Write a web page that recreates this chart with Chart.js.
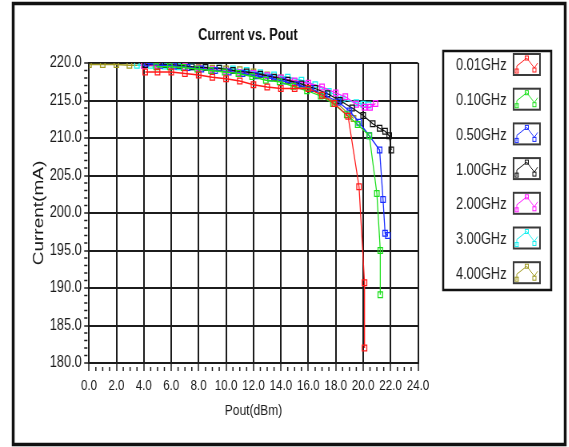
<!DOCTYPE html>
<html>
<head>
<meta charset="utf-8">
<script src="https://cdn.jsdelivr.net/npm/chart.js@4.4.0/dist/chart.umd.min.js"></script>
<style>
  html, body { margin: 0; padding: 0; background: #fff; overflow: hidden; }
  /* the reference is squeezed sideways, so draw wide and squeeze */
  #wrap { width: 711px; height: 447px; transform: scaleX(0.8); transform-origin: 0 0; }
</style>
</head>
<body>
<div id="wrap"><canvas id="chart"></canvas></div>
<script>
const seriesLabels = ['0.01GHz', '0.10GHz', '0.50GHz', '1.00GHz', '2.00GHz', '3.00GHz', '4.00GHz'];
const seriesColors = ['#ff1a1a', '#1ee01e', '#1a2cff', '#111111', '#ff1aff', '#1af0f0', '#a09a22'];

const pout001 = [4.1, 5.0, 6.0, 7.0, 8.0, 9.0, 10.0, 11.0, 12.0, 13.0, 14.0, 15.0, 16.0, 17.0, 17.9, 18.9, 19.7, 20.1, 20.1];
const curr001 = [218.8, 218.8, 218.8, 218.6, 218.4, 218.1, 217.9, 217.6, 217.1, 216.8, 216.6, 216.6, 216.6, 215.7, 214.6, 212.9, 203.5, 190.7, 182.0];

const pout010 = [4.9, 5.9, 6.9, 7.9, 8.9, 9.9, 10.9, 11.9, 12.9, 13.9, 14.9, 15.9, 16.9, 17.8, 18.8, 19.6, 20.45, 21.0, 21.25, 21.25];
const curr010 = [219.5, 219.5, 219.4, 219.2, 219.0, 218.8, 218.6, 218.2, 217.7, 217.5, 216.9, 216.3, 215.6, 214.6, 213.1, 211.8, 210.3, 202.6, 195.0, 189.1];

const pout050 = [4.2, 5.2, 6.2, 7.2, 8.2, 9.2, 10.2, 11.2, 12.2, 13.2, 14.2, 15.2, 16.2, 17.2, 18.2, 19.0, 19.7, 20.45, 21.2, 21.45, 21.6, 21.8];
const curr050 = [220.0, 219.7, 219.6, 219.4, 219.2, 219.0, 218.8, 218.6, 218.3, 218.0, 217.6, 217.1, 216.6, 215.7, 214.8, 213.6, 212.1, 210.3, 208.4, 201.8, 197.3, 197.0];

const pout100 = [4.1, 5.6, 6.6, 7.5, 8.5, 9.5, 10.5, 11.5, 12.5, 13.5, 14.5, 15.5, 16.5, 17.4, 18.3, 19.2, 20.0, 20.7, 21.2, 21.6, 21.9, 22.05];
const curr100 = [219.8, 219.8, 219.7, 219.5, 219.4, 219.3, 219.0, 218.8, 218.5, 218.1, 217.7, 217.2, 216.6, 215.9, 215.0, 214.0, 213.0, 211.9, 211.3, 210.9, 210.3, 208.4];

const pout200 = [4.0, 5.0, 6.0, 7.0, 8.0, 9.0, 10.0, 11.0, 12.0, 13.0, 14.0, 15.0, 16.0, 17.0, 18.0, 18.7, 19.5, 20.1, 20.5, 20.9];
const curr200 = [219.7, 219.7, 219.6, 219.5, 219.3, 219.1, 218.9, 218.7, 218.6, 218.3, 218.0, 217.6, 217.3, 216.8, 216.0, 215.5, 214.5, 214.1, 214.1, 214.6];

const pout300 = [3.5, 4.5, 5.5, 6.5, 7.5, 8.5, 9.5, 10.5, 11.5, 12.5, 13.5, 14.5, 15.5, 16.5, 17.5, 18.5, 19.5, 20.0, 20.4];
const curr300 = [219.7, 219.7, 219.6, 219.5, 219.5, 219.4, 219.3, 219.2, 219.0, 218.7, 218.4, 218.1, 217.7, 217.1, 216.2, 215.2, 214.7, 214.5, 214.4];

const pout400 = [0.0, 1.0, 2.0, 2.95, 4.0, 5.0, 6.0, 7.0, 8.0, 9.0, 10.0, 11.0, 12.0, 13.0, 14.0, 15.0, 16.0, 17.0, 18.0, 19.3];
const curr400 = [219.8, 219.8, 219.8, 219.7, 219.7, 219.6, 219.6, 219.5, 219.4, 219.3, 219.2, 219.1, 218.8, 218.4, 218.0, 217.3, 216.6, 215.7, 214.8, 212.6];

const xTickValues = [0, 24, 2];     // min, max, step
const yTickValues = [180, 220, 5];

const FONT = "'Liberation Sans', Arial, sans-serif";
const INK = '#1c1c1c';

const allPout = [pout001, pout010, pout050, pout100, pout200, pout300, pout400];
const allCurr = [curr001, curr010, curr050, curr100, curr200, curr300, curr400];

function toPoints(xs, ys) {
  return xs.map((x, i) => ({ x, y: ys[i] }));
}

const datasets = seriesLabels.map((label, i) => ({
  label,
  data: toPoints(allPout[i], allCurr[i]),
  borderColor: seriesColors[i],
  borderWidth: 1.3,
  pointStyle: 'rect',
  pointRadius: 4,
  pointBorderWidth: 1.3,
  pointBorderColor: seriesColors[i],
  pointBackgroundColor: 'rgba(255,255,255,0)',
  tension: 0,
  fill: false
}));

const framePlugin = {
  id: 'frame',
  beforeDraw(chart) {
    const c = chart.ctx;
    c.save();
    c.fillStyle = '#fff';
    c.fillRect(0, 0, chart.width, chart.height);
    c.strokeStyle = '#111';
    c.lineWidth = 3.5;
    c.strokeRect(16.5, 3.5, 690, 441);
    c.restore();
  }
};

const decorPlugin = {
  id: 'decor',
  afterDraw(chart) {
    const c = chart.ctx;
    const { left, right, bottom } = chart.chartArea;
    const xs = chart.scales.x;
    const ys = chart.scales.y;
    c.save();

    // title
    c.fillStyle = '#111';
    c.font = `bold 16px ${FONT}`;
    c.textAlign = 'center';
    c.textBaseline = 'middle';
    c.fillText('Current vs. Pout', (left + right) / 2 - 7, 36);

    // minor ticks
    c.strokeStyle = INK;
    c.lineWidth = 1.5;
    for (let v = xTickValues[0]; v <= xTickValues[1]; v += 0.5) {
      if (v % xTickValues[2] === 0) continue;
      const px = xs.getPixelForValue(v);
      c.beginPath();
      c.moveTo(px, bottom + 4);
      c.lineTo(px, bottom + 8);
      c.stroke();
    }
    for (let v = yTickValues[0]; v <= yTickValues[1]; v += 1) {
      if (v % yTickValues[2] === 0) continue;
      const py = ys.getPixelForValue(v);
      c.beginPath();
      c.moveTo(left - 6, py);
      c.lineTo(left - 2, py);
      c.stroke();
    }

    // legend
    const bx = 554, by = 51, bw = 135, bh = 239;
    c.lineWidth = 2.5;
    c.strokeStyle = '#111';
    c.strokeRect(bx, by, bw, bh);
    c.font = `16px ${FONT}`;
    c.textAlign = 'left';
    chart.data.datasets.forEach((ds, i) => {
      const cy = 65 + i * 34.7;
      c.fillStyle = '#222';
      c.fillText(ds.label, 570, cy + 1);
      const sx = 642, sy = cy - 11, sw = 33, sh = 21;
      c.strokeStyle = '#3a3a3a';
      c.lineWidth = 2;
      c.strokeRect(sx, sy, sw, sh);
      c.strokeStyle = ds.borderColor;
      c.lineWidth = 1;
      c.beginPath();
      c.moveTo(sx + 4, sy + sh - 3);
      c.lineTo(sx + 4, sy + sh - 9);
      c.lineTo(sx + sw / 2, sy + 4);
      c.lineTo(sx + sw - 7, sy + sh - 7);
      c.lineTo(sx + sw - 3, sy + sh - 12);
      c.stroke();
      [[sx + 4, sy + sh - 4], [sx + sw / 2, sy + 4], [sx + sw - 7, sy + sh - 5]].forEach(([mx, my]) => {
        c.strokeRect(mx - 2, my - 2, 4, 4);
      });
    });
    c.restore();
  }
};

new Chart(document.getElementById('chart').getContext('2d'), {
  type: 'line',
  data: { datasets },
  options: {
    animation: false,
    responsive: true,
    maintainAspectRatio: false,
    layout: { padding: { left: 0, top: 63, right: 188.5, bottom: 24 } },
    plugins: {
      legend: { display: false },
      tooltip: { enabled: false }
    },
    scales: {
      x: {
        type: 'linear',
        min: xTickValues[0],
        max: xTickValues[1],
        afterFit(scale) { scale.height = 60; },
        ticks: {
          stepSize: xTickValues[2],
          autoSkip: false,
          maxRotation: 0,
          padding: 6,
          color: '#1a1a1a',
          font: { family: FONT, size: 14.5 },
          callback: (v) => Number(v).toFixed(1)
        },
        grid: { color: INK, lineWidth: 2, tickLength: 8, tickColor: INK, tickWidth: 1.5 },
        border: { color: INK, width: 2 },
        title: {
          display: true,
          text: 'Pout(dBm)',
          color: '#1a1a1a',
          font: { family: FONT, size: 15 },
          padding: { top: 0, bottom: 3 }
        }
      },
      y: {
        type: 'linear',
        min: yTickValues[0],
        max: yTickValues[1],
        afterFit(scale) { scale.width = 111.25; },
        ticks: {
          stepSize: yTickValues[2],
          autoSkip: false,
          padding: 3,
          color: '#1a1a1a',
          font: { family: FONT, size: 16 },
          callback: (v) => Number(v).toFixed(1)
        },
        grid: { color: INK, lineWidth: 2, tickLength: 6, tickColor: INK, tickWidth: 1.5 },
        border: { color: INK, width: 2 },
        title: {
          display: true,
          text: 'Current(mA)',
          color: '#1a1a1a',
          font: { family: FONT, size: 19 },
          padding: { top: 37, bottom: 0 }
        }
      }
    }
  },
  plugins: [framePlugin, decorPlugin]
});
</script>
</body>
</html>
